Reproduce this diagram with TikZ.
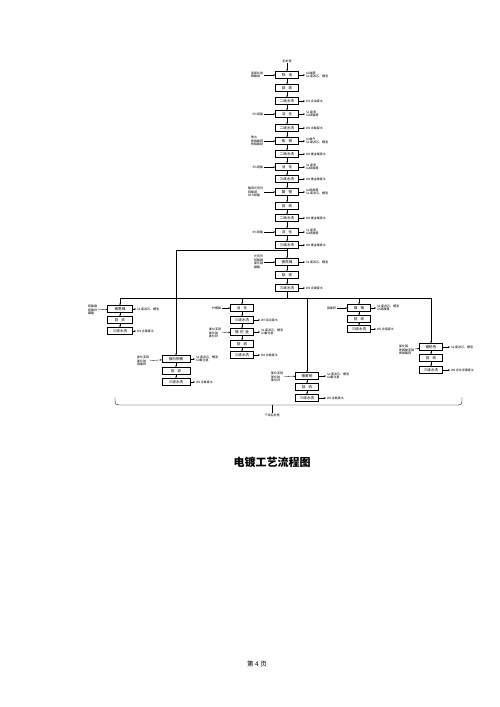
\documentclass[tikz,border=0pt]{standalone}
\usepackage{fontspec}
\setmainfont{Noto Sans CJK SC}
\usetikzlibrary{arrows.meta}
\newcommand\lblfont{\fontsize{3}{3.5}\selectfont}
\newcommand\boxfont{\fontsize{3.6}{4}\selectfont}
\tikzset{
  stepbox/.style={draw,line width=0.45pt,minimum width=23pt,minimum height=7pt,inner sep=0.5pt,fill=white,font=\boxfont},
  inlbl/.style={anchor=east,align=left,inner sep=0pt,outer sep=1pt,font=\lblfont},
  outlbl/.style={anchor=west,align=left,inner sep=0pt,outer sep=1pt,font=\lblfont},
  flow/.style={-{Stealth[length=1.8pt,width=1.5pt]},line width=0.3pt},
  link/.style={line width=0.35pt}
}

\begin{document}
\begin{tikzpicture}[x=1pt,y=-1pt]
  \useasboundingbox (0,0) rectangle (500,707);
  % main line
  \node[inner sep=0.5pt,font=\lblfont] (pre) at (287,61) {前处理};
  \node[stepbox] (degrease) at (287,75) {除\hspace{3pt}油};
  \node[stepbox] (rec1) at (287,88) {回\hspace{3pt}收};
  \node[stepbox] (rin1) at (287,101) {二级水洗};
  \node[stepbox] (act1) at (287,114) {活\hspace{3pt}化};
  \node[stepbox] (rin2) at (287,128) {二级水洗};
  \node[stepbox] (pcu) at (287,141) {焦\hspace{3pt}铜};
  \node[stepbox] (rin3) at (287,154) {二级水洗};
  \node[stepbox] (act2) at (287,167) {活\hspace{3pt}化};
  \node[stepbox] (rin4) at (287,179) {三级水洗};
  \node[stepbox] (acu) at (287,192) {酸\hspace{3pt}铜};
  \node[stepbox] (rec2) at (287,206) {回\hspace{3pt}收};
  \node[stepbox] (rin5) at (287,218) {二级水洗};
  \node[stepbox] (act3) at (287,232) {活\hspace{3pt}化};
  \node[stepbox] (rin6) at (287,245) {三级水洗};
  \node[stepbox] (nickel) at (287,262) {镀亮镍};
  \node[stepbox] (rec3) at (287,275) {回\hspace{3pt}收};
  \node[stepbox] (rin7) at (287,288) {三级水洗};
  % inputs and outputs of the main line
  \node[inlbl] (degreasein) at (264,75) {氢氧化钠\\碳酸钠};
  \node[outlbl] (degreaseout) at (305,75) {G1碱雾\\S2 废滤芯、槽渣};
  \node[outlbl] (rin1out) at (305,101) {W1 含油废水};
  \node[inlbl] (act1in) at (264,114) {5\%硫酸};
  \node[outlbl] (act1out) at (305,114) {S1 废液\\G2硫酸雾};
  \node[outlbl] (rin2out) at (305,128) {W2 含酸废水};
  \node[inlbl] (pcuin) at (264,141) {氨水\\焦磷酸钾\\焦磷酸铜};
  \node[outlbl] (pcuout) at (305,141) {G3氨气\\S2 废滤芯、槽渣};
  \node[outlbl] (rin3out) at (305,154) {W4 重金属废水};
  \node[inlbl] (act2in) at (264,167) {5\%硫酸};
  \node[outlbl] (act2out) at (305,167) {S1 废液\\G2硫酸雾};
  \node[outlbl] (rin4out) at (305,179) {W4 重金属废水};
  \node[inlbl] (acuin) at (264,192) {酸铜光亮剂\\硫酸铜\\60\%硫酸};
  \node[outlbl] (acuout) at (305,192) {G2硫酸雾\\S2 废滤芯、槽渣};
  \node[outlbl] (rin5out) at (305,218) {W4 重金属废水};
  \node[inlbl] (act3in) at (264,232) {5\%硫酸};
  \node[outlbl] (act3out) at (305,232) {S1 废液\\G2硫酸雾};
  \node[outlbl] (rin6out) at (305,245) {W4 重金属废水};
  \node[inlbl] (nickelin) at (264,262) {光亮剂\\硫酸镍\\氯化镍\\硼酸};
  \node[outlbl] (nickelout) at (305,262) {S2 废滤芯、槽渣};
  \node[outlbl] (rin7out) at (305,288) {W3 含镍废水};
  \draw[flow] (pre) -- (degrease);
  \draw[flow] (degrease) -- (rec1);
  \draw[flow] (rec1) -- (rin1);
  \draw[flow] (rin1) -- (act1);
  \draw[flow] (act1) -- (rin2);
  \draw[flow] (rin2) -- (pcu);
  \draw[flow] (pcu) -- (rin3);
  \draw[flow] (rin3) -- (act2);
  \draw[flow] (act2) -- (rin4);
  \draw[flow] (rin4) -- (acu);
  \draw[flow] (acu) -- (rec2);
  \draw[flow] (rec2) -- (rin5);
  \draw[flow] (rin5) -- (act3);
  \draw[flow] (act3) -- (rin6);
  \draw[flow] (rin6) -- (nickel);
  \draw[flow] (nickel) -- (rec3);
  \draw[flow] (rec3) -- (rin7);
  \draw[flow] (degreasein) -- (degrease);
  \draw[flow] (act1in) -- (act1);
  \draw[flow] (pcuin) -- (pcu);
  \draw[flow] (act2in) -- (act2);
  \draw[flow] (acuin) -- (acu);
  \draw[flow] (act3in) -- (act3);
  \draw[flow] (nickelin) -- (nickel);
  \draw[flow] (degrease) -- (degreaseout);
  \draw[flow] (rin1) -- (rin1out);
  \draw[flow] (act1) -- (act1out);
  \draw[flow] (rin2) -- (rin2out);
  \draw[flow] (pcu) -- (pcuout);
  \draw[flow] (rin3) -- (rin3out);
  \draw[flow] (act2) -- (act2out);
  \draw[flow] (rin4) -- (rin4out);
  \draw[flow] (acu) -- (acuout);
  \draw[flow] (rin5) -- (rin5out);
  \draw[flow] (act3) -- (act3out);
  \draw[flow] (rin6) -- (rin6out);
  \draw[flow] (nickel) -- (nickelout);
  \draw[flow] (rin7) -- (rin7out);
  % branches
  \node[stepbox,minimum width=25pt] (blk) at (120,309) {镀黑镍};
  \node[stepbox,minimum width=25pt] (blkrec) at (120,320) {回\hspace{3pt}收};
  \node[stepbox,minimum width=25pt] (blkrin) at (120,331) {三级水洗};
  \node[inlbl] (blkin) at (98,310) {硫酸镍\\硫酸锌\\硼酸};
  \node[outlbl] (blkout) at (136,309) {S2 废滤芯、槽渣};
  \node[outlbl] (blkrinout) at (136,331) {W3 含镍废水};
  \node[stepbox,minimum width=28pt] (wcs) at (176,359) {镀白铜锡};
  \node[stepbox,minimum width=28pt] (wcsrec) at (176,371) {回\hspace{3pt}收};
  \node[stepbox,minimum width=28pt] (wcsrin) at (176,382) {三级水洗};
  \node[inlbl] (wcsin) at (150,361) {氰化亚铜\\氰化钠\\锡酸钾};
  \node[outlbl] (wcsout) at (195,359) {S2 废滤芯、槽渣\\G4氰化氢};
  \node[outlbl] (wcsrinout) at (195,382) {W2 含氰废水};
  \node[stepbox] (citact) at (242,308) {活\hspace{3pt}化};
  \node[stepbox] (citrin) at (242,320) {三级水洗};
  \node[stepbox] (gold) at (242,332) {镀\hspace{1.5pt}仿\hspace{1.5pt}金};
  \node[stepbox] (goldrec) at (242,344) {回\hspace{3pt}收};
  \node[stepbox] (goldrin) at (242,355) {三级水洗};
  \node[inlbl] (citin) at (222,308) {柠檬酸};
  \node[outlbl] (citrinout) at (260,320) {W7 综合废水};
  \node[inlbl] (goldin) at (222,333) {氰化亚铜\\氰化钠\\氰化锌};
  \node[outlbl] (goldout) at (260,332) {S2 废滤芯、槽渣\\G4氰化氢};
  \node[outlbl] (goldrinout) at (260,355) {W2 含氰废水};
  \node[stepbox] (brass) at (307,376) {镀黄铜};
  \node[stepbox] (brassrec) at (307,387) {回\hspace{3pt}收};
  \node[stepbox] (brassrin) at (307,398) {三级水洗};
  \node[inlbl] (brassin) at (284,377) {氰化亚铜\\氰化钠\\氰化锌};
  \node[outlbl] (brassout) at (326,376) {S2 废滤芯、槽渣\\G4氰化氢};
  \node[outlbl] (brassrinout) at (326,398) {W2 含氰废水};
  \node[stepbox] (chrome) at (359,308) {镀\hspace{3pt}铬};
  \node[stepbox] (chromerec) at (359,319) {回\hspace{3pt}收};
  \node[stepbox] (chromerin) at (359,329) {三级水洗};
  \node[inlbl] (chromein) at (337,308) {铬酸酐};
  \node[outlbl] (chromeout) at (376,308) {S2 废滤芯、槽渣\\G5铬酸雾};
  \node[outlbl] (chromerinout) at (376,329) {W5 含铬废水};
  \node[stepbox] (gun) at (431,347) {镀枪色};
  \node[stepbox] (gunrec) at (431,358) {回\hspace{3pt}收};
  \node[stepbox] (gunrin) at (431,370) {三级水洗};
  \node[inlbl] (gunin) at (415,350) {氯化锡\\焦磷酸亚锡\\焦磷酸钾};
  \node[outlbl] (gunout) at (450,347) {S2 废滤芯、槽渣};
  \node[outlbl] (gunrinout) at (450,370) {W6 含化学镍废水};
  \coordinate (tap) at (287,250);
  \coordinate (split) at (287,298);
  \coordinate (splitL) at (120,298);
  \coordinate (splitR) at (431,298);
  \draw[link] (rin7) -- (split);
  \draw[link] (splitL) -- (splitR);
  \draw[flow] (tap) -| (wcs);
  \draw[flow] (splitL) -- (blk);
  \draw[flow] (citact |- split) -- (citact);
  \draw[flow] (brass |- split) -- (brass);
  \draw[flow] (chrome |- split) -- (chrome);
  \draw[flow] (splitR) -- (gun);
  \draw[flow] (blk) -- (blkrec);
  \draw[flow] (blkrec) -- (blkrin);
  \draw[flow] (wcs) -- (wcsrec);
  \draw[flow] (wcsrec) -- (wcsrin);
  \draw[flow] (citact) -- (citrin);
  \draw[flow] (citrin) -- (gold);
  \draw[flow] (gold) -- (goldrec);
  \draw[flow] (goldrec) -- (goldrin);
  \draw[flow] (brass) -- (brassrec);
  \draw[flow] (brassrec) -- (brassrin);
  \draw[flow] (chrome) -- (chromerec);
  \draw[flow] (chromerec) -- (chromerin);
  \draw[flow] (gun) -- (gunrec);
  \draw[flow] (gunrec) -- (gunrin);
  \draw[flow] (blkin) -- (blk);
  \draw[flow] (wcsin) -- (wcs);
  \draw[flow] (citin) -- (citact);
  \draw[flow] (goldin) -- (gold);
  \draw[flow] (brassin) -- (brass);
  \draw[flow] (chromein) -- (chrome);
  \draw[flow] (gunin) -- (gun);
  \draw[flow] (blk) -- (blkout);
  \draw[flow] (blkrin) -- (blkrinout);
  \draw[flow] (wcs) -- (wcsout);
  \draw[flow] (wcsrin) -- (wcsrinout);
  \draw[flow] (citrin) -- (citrinout);
  \draw[flow] (gold) -- (goldout);
  \draw[flow] (goldrin) -- (goldrinout);
  \draw[flow] (brass) -- (brassout);
  \draw[flow] (brassrin) -- (brassrinout);
  \draw[flow] (chrome) -- (chromeout);
  \draw[flow] (chromerin) -- (chromerinout);
  \draw[flow] (gun) -- (gunout);
  \draw[flow] (gunrin) -- (gunrinout);
  % collecting brace
  \coordinate (bracemid) at (272,405);
  \node[inner sep=0.5pt,font=\lblfont] (post) at (272,415) {下线后处理};
  \draw[link] (115,397) .. controls (115,405) .. (122,405) -- (455,405) .. controls (462,405) .. (462,397);
  \draw[link] (bracemid) -- (post);
  % title and page number
  \node[font=\fontsize{11}{13}\selectfont\bfseries] (title) at (272,462) {电镀工艺流程图};
  \node[font=\fontsize{6.5}{8}\selectfont] (page) at (257,664) {第 4 页};
\end{tikzpicture}
\end{document}
